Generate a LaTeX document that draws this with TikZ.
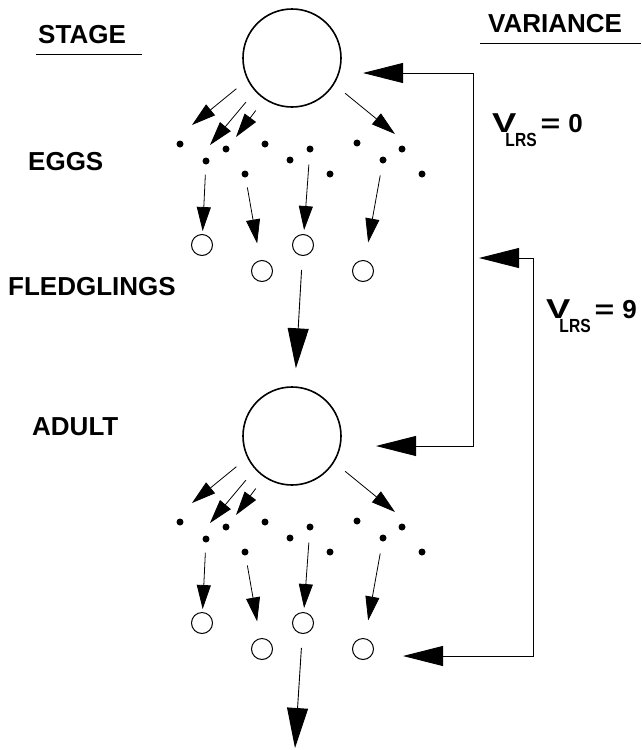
\documentclass[tikz,border=0pt]{standalone}
\usepackage{fontspec}
\usepackage{graphicx}
\setmainfont{Liberation Sans}
\usetikzlibrary{arrows.meta}
\newcommand{\vlrs}[1]{\scalebox{1.4}[1.05]{V}\kern-11pt\raisebox{-14pt}{\fontsize{19}{19}\selectfont\scalebox{0.82}[1]{LRS}}\kern4pt\scalebox{1.3}[1]{=}\kern8pt#1}

\begin{document}
\begin{tikzpicture}[x=1pt, y=-1pt,
  stagetext/.style={anchor=base west, inner sep=0pt, font=\bfseries\fontsize{26}{30}\selectfont},
  bigcircle/.style={circle, draw, line width=1.6pt, minimum size=98pt, inner sep=0pt},
  egg/.style={circle, fill, minimum size=7pt, inner sep=0pt},
  fledgling/.style={circle, draw, line width=1pt, minimum size=21pt, inner sep=0pt},
  smallarrow/.style={-{Triangle[length=24pt,width=14pt]}, line width=0.8pt},
  bigarrow/.style={-{Triangle[length=40pt,width=21pt]}, line width=0.9pt},
  feedback/.style={{Triangle[length=40pt,width=20pt]}-{Triangle[length=40pt,width=20pt]}, line width=0.9pt}]
\useasboundingbox (0,0) rectangle (641,750);

% Заголовки
\node (stage) [stagetext] at (38,43) {STAGE};
\draw[line width=0.8pt] (36,54) -- (142,54);
\node (variance) [stagetext] at (488,32) {VARIANCE};
\draw[line width=0.8pt] (480,43) -- (641,43);

% Подписи стадий
\node (eggs) [stagetext] at (28,170) {EGGS};
\node (fledglings) [stagetext] at (8,295) {FLEDGLINGS};
\node (adulttext) [stagetext] at (32,435) {ADULT};

% Верхний уровень
\node (parent) [bigcircle] at (292,58) {};
\node (eggA1) [egg] at (180,144) {};
\node (eggA2) [egg] at (206,161) {};
\node (eggA3) [egg] at (226,149) {};
\node (eggA4) [egg] at (245,174) {};
\node (eggA5) [egg] at (265,144) {};
\node (eggA6) [egg] at (290,160) {};
\node (eggA7) [egg] at (310,149) {};
\node (eggA8) [egg] at (330,174) {};
\node (eggA9) [egg] at (357,143) {};
\node (eggA10) [egg] at (383,160) {};
\node (eggA11) [egg] at (402,149) {};
\node (eggA12) [egg] at (422,174) {};
\node (fledA1) [fledgling] at (202,245) {};
\node (fledA2) [fledgling] at (262,271) {};
\node (fledA3) [fledgling] at (303,245) {};
\node (fledA4) [fledgling] at (363,271) {};
\coordinate (layA1) at (192,125);
\coordinate (layA2) at (210,145);
\coordinate (layA3) at (236,137);
\coordinate (layA4) at (395,134);

\draw[smallarrow, shorten <=14pt] (parent.206) -- (layA1);
\draw[smallarrow, shorten <=14pt] (parent.222) -- (layA2);
\draw[smallarrow, shorten <=14pt] (parent.236) -- (layA3);
\draw[smallarrow, shorten <=14pt] (parent.328) -- (layA4);
\draw[smallarrow, shorten <=10pt, shorten >=3pt] (eggA2) -- (fledA1);
\draw[smallarrow, shorten <=10pt, shorten >=17pt] (eggA4) -- (fledA2);
\draw[smallarrow, shorten <=12pt, shorten >=4pt] (eggA7) -- (fledA3);
\draw[smallarrow, shorten <=12pt, shorten >=18pt] (eggA10) -- (fledA4);

% Нижний уровень
\begin{scope}[yshift=-378pt]
\node (adult) [bigcircle] at (292,58) {};
\node (eggB1) [egg] at (180,144) {};
\node (eggB2) [egg] at (206,161) {};
\node (eggB3) [egg] at (226,149) {};
\node (eggB4) [egg] at (245,174) {};
\node (eggB5) [egg] at (265,144) {};
\node (eggB6) [egg] at (290,160) {};
\node (eggB7) [egg] at (310,149) {};
\node (eggB8) [egg] at (330,174) {};
\node (eggB9) [egg] at (357,143) {};
\node (eggB10) [egg] at (383,160) {};
\node (eggB11) [egg] at (402,149) {};
\node (eggB12) [egg] at (422,174) {};
\node (fledB1) [fledgling] at (202,245) {};
\node (fledB2) [fledgling] at (262,271) {};
\node (fledB3) [fledgling] at (303,245) {};
\node (fledB4) [fledgling] at (363,271) {};
\coordinate (layB1) at (192,125);
\coordinate (layB2) at (210,145);
\coordinate (layB3) at (236,137);
\coordinate (layB4) at (395,134);
\coordinate (next) at (295,370);
\end{scope}

\draw[smallarrow, shorten <=14pt] (adult.206) -- (layB1);
\draw[smallarrow, shorten <=14pt] (adult.222) -- (layB2);
\draw[smallarrow, shorten <=14pt] (adult.236) -- (layB3);
\draw[smallarrow, shorten <=14pt] (adult.328) -- (layB4);
\draw[smallarrow, shorten <=10pt, shorten >=3pt] (eggB2) -- (fledB1);
\draw[smallarrow, shorten <=10pt, shorten >=17pt] (eggB4) -- (fledB2);
\draw[smallarrow, shorten <=12pt, shorten >=4pt] (eggB7) -- (fledB3);
\draw[smallarrow, shorten <=12pt, shorten >=18pt] (eggB10) -- (fledB4);

% Переходы между поколениями
\draw[bigarrow, shorten <=14pt, shorten >=18pt] (fledA3) -- (adult);
\draw[bigarrow, shorten <=14pt] (fledB3) -- (next);

% Дисперсия
\coordinate (toParent) at (363,73);
\coordinate (railA) at (473,73);
\coordinate (toAdult) at (376,446);
\draw[feedback] (toParent) -- (railA) |- (toAdult);
\coordinate (toRail) at (479,258);
\coordinate (railB) at (533,258);
\coordinate (toFled) at (403,656);
\draw[feedback] (toRail) -- (railB) |- (toFled);

\node (vzero) [stagetext] at (492,132) {\vlrs{0}};
\node (vnine) [stagetext] at (546,318) {\vlrs{9}};

\end{tikzpicture}
\end{document}
